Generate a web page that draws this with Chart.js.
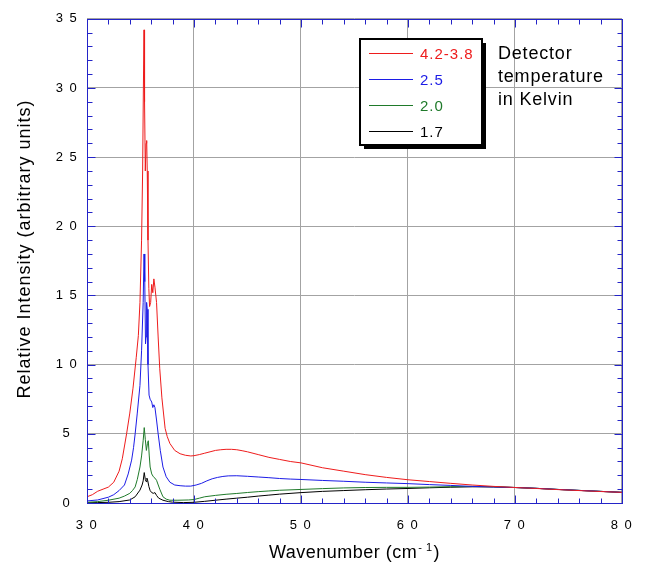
<!DOCTYPE html>
<html>
<head>
<meta charset="utf-8">
<script src="https://cdn.jsdelivr.net/npm/chart.js@4.4.1/dist/chart.umd.min.js"></script>
<style>
  body { margin: 0; background: #fff; }
  canvas { display: block; }
</style>
</head>
<body>
<canvas id="spectrum" width="646" height="566"></canvas>
<script>
// Series labels (detector temperature in Kelvin)
const seriesLabels = ["4.2-3.8", "2.5", "2.0", "1.7"];

// 4.2-3.8 K
const redX = [30, 30.5, 31, 31.5, 32, 32.5, 33, 33.3, 33.7, 34.0, 34.3, 34.6, 34.8, 34.95, 35.1, 35.2, 35.27, 35.33, 35.38, 35.45, 35.52, 35.58, 35.63, 35.7, 35.78, 35.85, 35.95, 36.05, 36.15, 36.25, 36.35, 36.5, 36.65, 36.8, 37.0, 37.3, 37.5, 37.75, 38.2, 38.7, 39.2, 39.7, 40, 40.5, 41, 41.5, 42, 42.5, 43, 43.5, 44, 44.5, 45, 46, 47, 48, 49, 50, 52, 54, 56, 58, 60, 62, 64, 66, 68, 70, 72, 74, 76, 78, 80];
const redY = [0.45, 0.6, 0.85, 1.0, 1.15, 1.5, 2.3, 3.2, 5.0, 6.5, 8.3, 10.5, 12.1, 14.5, 19, 24, 30, 34.2, 29, 24, 26, 26.2, 24, 19, 15.5, 14.2, 14.5, 15.8, 15.2, 16.2, 15.6, 14.5, 12, 9.7, 7.6, 5.4, 4.8, 4.3, 3.8, 3.56, 3.45, 3.4, 3.42, 3.5, 3.6, 3.7, 3.8, 3.85, 3.88, 3.88, 3.85, 3.78, 3.7, 3.5, 3.3, 3.15, 3.0, 2.9, 2.55, 2.3, 2.05, 1.85, 1.68, 1.55, 1.42, 1.3, 1.2, 1.12, 1.05, 0.97, 0.9, 0.83, 0.77];

// 2.5 K
const blueX = [30, 31, 32, 32.5, 33, 33.5, 33.85, 34.17, 34.35, 34.5, 34.7, 34.95, 35.1, 35.25, 35.33, 35.4, 35.47, 35.52, 35.57, 35.63, 35.7, 35.8, 35.9, 36.05, 36.15, 36.25, 36.35, 36.5, 36.65, 36.85, 37.1, 37.4, 37.75, 38.2, 38.7, 39.2, 39.7, 40.2, 40.7, 41.2, 41.7, 42.2, 42.7, 43.2, 44, 45, 46, 47, 48, 49, 50, 52, 54, 56, 58, 60, 62, 64, 66, 68, 70, 72, 74, 76, 78, 80];
const blueY = [0.15, 0.22, 0.42, 0.6, 0.9, 1.3, 2.1, 3.1, 4.0, 5.0, 6.5, 8.5, 11, 14.5, 18.0, 16, 11.5, 12, 14.5, 14.0, 10, 7.8, 7.5, 7.3, 6.9, 7.1, 6.9, 6.0, 5.0, 3.8, 2.6, 1.9, 1.5, 1.3, 1.25, 1.22, 1.22, 1.3, 1.42, 1.6, 1.75, 1.85, 1.92, 1.96, 1.97, 1.93, 1.88, 1.83, 1.77, 1.73, 1.7, 1.63, 1.57, 1.5, 1.45, 1.4, 1.33, 1.27, 1.2, 1.16, 1.12, 1.06, 0.98, 0.91, 0.84, 0.77];

// 2.0 K
const greenX = [30, 31, 32, 33, 33.5, 34.0, 34.25, 34.5, 34.7, 34.95, 35.1, 35.25, 35.35, 35.45, 35.55, 35.65, 35.73, 35.82, 35.9, 36.05, 36.2, 36.35, 36.5, 36.8, 37.1, 37.4, 37.75, 38.5, 39.5, 40, 40.5, 41, 42, 43, 44, 45, 46, 47, 48, 50, 52, 54, 56, 58, 60, 62, 64, 66, 68, 70, 72, 74, 76, 78, 80];
const greenY = [0.05, 0.1, 0.2, 0.35, 0.5, 0.7, 0.9, 1.16, 1.7, 2.6, 3.4, 4.5, 5.45, 4.6, 3.8, 4.3, 4.5, 3.4, 2.6, 2.1, 1.9, 1.8, 1.64, 1.0, 0.45, 0.28, 0.2, 0.2, 0.22, 0.25, 0.35, 0.45, 0.55, 0.63, 0.69, 0.76, 0.82, 0.87, 0.92, 0.98, 1.04, 1.09, 1.12, 1.13, 1.13, 1.15, 1.18, 1.2, 1.18, 1.12, 1.06, 0.98, 0.91, 0.84, 0.77];

// 1.7 K
const blackX = [30, 31, 32, 33, 34, 34.5, 34.95, 35.15, 35.25, 35.35, 35.45, 35.52, 35.6, 35.68, 35.78, 35.9, 36.05, 36.2, 36.35, 36.5, 36.7, 37.1, 37.6, 38, 39, 40, 41, 42, 43, 44, 45, 46, 47, 48, 50, 52, 54, 56, 58, 60, 62, 64, 66, 68, 70, 72, 74, 76, 78, 80];
const blackY = [0.02, 0.03, 0.05, 0.1, 0.22, 0.45, 0.93, 1.3, 1.6, 2.2, 1.7, 1.55, 1.8, 1.6, 1.2, 0.9, 0.75, 0.7, 0.75, 0.55, 0.35, 0.2, 0.1, 0.06, 0.03, 0.05, 0.12, 0.2, 0.28, 0.35, 0.42, 0.5, 0.57, 0.64, 0.75, 0.84, 0.9, 0.96, 1.01, 1.05, 1.1, 1.14, 1.17, 1.16, 1.12, 1.06, 0.98, 0.91, 0.84, 0.77];

// Axis ticks
const xTicks = [30, 40, 50, 60, 70, 80];
const yTicks = [0, 5, 10, 15, 20, 25, 30, 35];
const xMinorStep = 2;
const yMinorStep = 1;

const FONT = "'Liberation Sans', Arial, sans-serif";
const AXIS_BLUE = "#2424c8";
const GRID_GRAY = "#a3a3a3";

function pts(xs, ys) {
    return xs.map((x, i) => ({ x: x, y: ys[i] }));
}

// spaced digits like "3 5"
function spaced(v) {
    return String(v).split("").join(" ");
}

// tick labels are drawn a little spread out
const spacingPlugin = {
    id: "spacing",
    beforeDraw(chart) { chart.ctx.letterSpacing = "1.5px"; },
    afterDraw(chart) { chart.ctx.letterSpacing = "0px"; }
};

// Blue box round the plot with inward ticks on all four sides
const framePlugin = {
    id: "frame",
    afterDatasetsDraw(chart) {
        const { ctx, chartArea: a, scales: { x, y } } = chart;
        ctx.save();
        ctx.strokeStyle = AXIS_BLUE;
        ctx.lineWidth = 1;
        const L = Math.round(a.left) + 0.5, R = Math.round(a.right) + 0.5;
        const T = Math.round(a.top) + 0.5, B = Math.round(a.bottom) + 0.5;
        ctx.strokeRect(L, T, R - L, B - T);
        ctx.beginPath();
        for (let v = x.min; v <= x.max + 1e-9; v += xMinorStep) {
            const px = Math.round(x.getPixelForValue(v)) + 0.5;
            const len = xTicks.includes(v) ? 8 : 5;
            ctx.moveTo(px, B); ctx.lineTo(px, B - len);
            ctx.moveTo(px, T); ctx.lineTo(px, T + len);
        }
        for (let v = y.min; v <= y.max + 1e-9; v += yMinorStep) {
            const py = Math.round(y.getPixelForValue(v)) + 0.5;
            const len = yTicks.includes(v) ? 8 : 5;
            ctx.moveTo(L, py); ctx.lineTo(L + len, py);
            ctx.moveTo(R, py); ctx.lineTo(R - len, py);
        }
        ctx.stroke();

        // axis titles
        ctx.fillStyle = "#000";
        ctx.letterSpacing = "1px";
        ctx.font = "18px " + FONT;
        ctx.textBaseline = "middle";
        ctx.textAlign = "center";
        ctx.save();
        ctx.translate(25, 249);
        ctx.rotate(-Math.PI / 2);
        ctx.fillText("Relative Intensity (arbitrary units)", 0, 0);
        ctx.restore();

        ctx.letterSpacing = "0.5px";
        ctx.textBaseline = "alphabetic";
        ctx.textAlign = "left";
        const main = "Wavenumber (cm", sup = "- 1", close = ")";
        ctx.font = "18px " + FONT;
        const w1 = ctx.measureText(main).width, w3 = ctx.measureText(close).width;
        ctx.font = "11px " + FONT;
        const w2 = ctx.measureText(sup).width;
        let tx = (a.left + a.right) / 2 - (w1 + w2 + w3 + 2) / 2;
        const base = 558;
        ctx.font = "18px " + FONT;
        ctx.fillText(main, tx, base);
        tx += w1 + 1;
        ctx.font = "11px " + FONT;
        ctx.fillText(sup, tx, base - 7);
        tx += w2 + 1;
        ctx.font = "18px " + FONT;
        ctx.fillText(close, tx, base);
        ctx.restore();
    }
};

const colors = ["#ee1c1c", "#1c1ce6", "#1f7a2a", "#000000"];
const textColors = ["#ee1c1c", "#1c1ce6", "#1f7a2a", "#000000"];
const xs = [redX, blueX, greenX, blackX];
const ys = [redY, blueY, greenY, blackY];

// Boxed legend with drop shadow, plus the note beside it
const legendPlugin = {
    id: "boxLegend",
    afterDraw(chart) {
        const ctx = chart.ctx;
        const bx = 360, by = 39, bw = 122, bh = 106;
        ctx.save();
        ctx.letterSpacing = "0px";
        ctx.fillStyle = "#000";
        ctx.fillRect(bx + 4, by + 4, bw, bh);
        ctx.fillStyle = "#fff";
        ctx.fillRect(bx, by, bw, bh);
        ctx.strokeStyle = "#000";
        ctx.lineWidth = 2;
        ctx.strokeRect(bx, by, bw, bh);

        ctx.font = "15px " + FONT;
        ctx.letterSpacing = "1px";
        ctx.textBaseline = "middle";
        seriesLabels.forEach((lab, i) => {
            const ly = 53 + i * 26;
            ctx.fillStyle = colors[i];
            ctx.fillRect(369, ly, 44, 1);
            ctx.fillStyle = textColors[i];
            ctx.fillText(lab, 420, ly + 1.5);
        });

        ctx.fillStyle = "#000";
        ctx.font = "18px " + FONT;
        ctx.letterSpacing = "0.8px";
        ctx.textBaseline = "alphabetic";
        ["Detector", "temperature", "in Kelvin"].forEach((t, i) => {
            ctx.fillText(t, 498, 59 + i * 23);
        });
        ctx.restore();
    }
};

const ctx = document.getElementById("spectrum").getContext("2d");
new Chart(ctx, {
    type: "line",
    data: {
        datasets: seriesLabels.map((lab, i) => ({
            label: lab,
            data: pts(xs[i], ys[i]),
            borderColor: colors[i],
            borderWidth: 1,
            pointRadius: 0,
            tension: 0,
            fill: false
        }))
    },
    options: {
        responsive: false,
        animation: false,
        layout: { padding: { top: 12, right: 23, left: 0, bottom: 0 } },
        plugins: {
            legend: { display: false },
            tooltip: { enabled: false }
        },
        scales: {
            x: {
                type: "linear",
                min: 30,
                max: 80,
                afterBuildTicks: s => { s.ticks = xTicks.map(v => ({ value: v })); },
                afterFit: s => { s.height = 63; },
                ticks: {
                    callback: v => spaced(v),
                    font: { family: FONT, size: 13 },
                    color: "#000",
                    padding: 15,
                    maxRotation: 0
                },
                grid: { color: GRID_GRAY, drawTicks: false },
                border: { display: false }
            },
            y: {
                min: 0,
                max: 35,
                afterBuildTicks: s => { s.ticks = yTicks.map(v => ({ value: v })); },
                afterFit: s => { s.width = 87; },
                ticks: {
                    callback: v => spaced(v),
                    font: { family: FONT, size: 13 },
                    color: "#000",
                    padding: 11,
                    crossAlign: "center"
                },
                grid: { color: GRID_GRAY, drawTicks: false },
                border: { display: false }
            }
        }
    },
    plugins: [spacingPlugin, framePlugin, legendPlugin]
});
</script>
</body>
</html>
